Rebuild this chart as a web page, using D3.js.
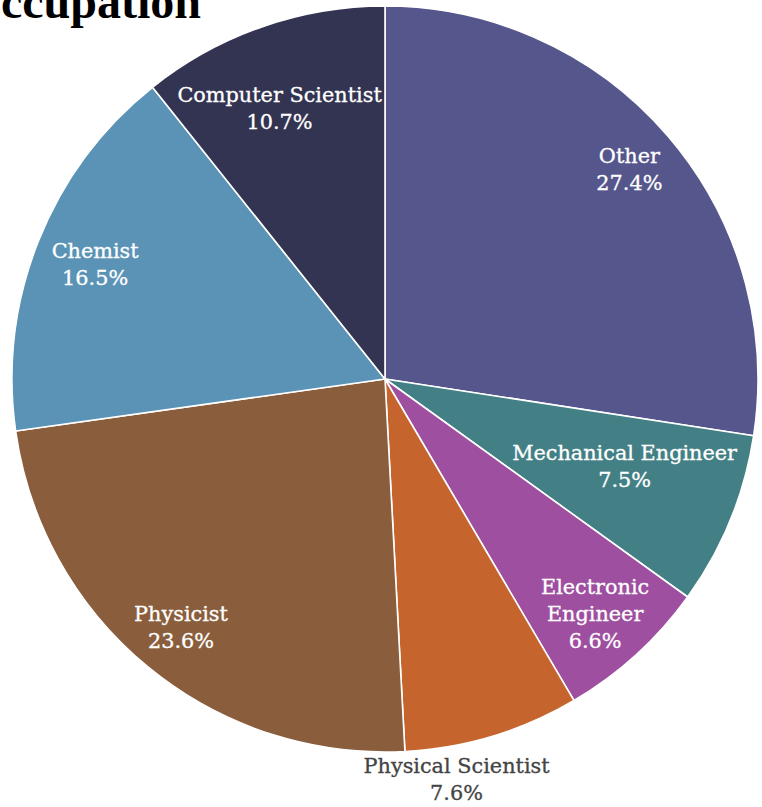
<!DOCTYPE html>
<html>
<head>
<meta charset="utf-8">
<script src="https://cdn.jsdelivr.net/npm/d3@7"></script>
<style>
  body { margin: 0; background: #fff; }
  svg { display: block; }
</style>
</head>
<body>
<svg id="chart" width="762" height="807"></svg>
<script>
// Share of laureates by occupation (percent)
const occupations = ["Other", "Mechanical Engineer", "Electronic Engineer", "Physical Scientist", "Physicist", "Chemist", "Computer Scientist"];
const shares = [27.4, 7.5, 6.6, 7.6, 23.6, 16.5, 10.7];
const labelLines = [["Other"], ["Mechanical Engineer"], ["Electronic", "Engineer"], ["Physical Scientist"], ["Physicist"], ["Chemist"], ["Computer Scientist"]];
const sliceColors = ["#55568c", "#438085", "#9e4fa0", "#c5652d", "#8a5d3c", "#5b93b6", "#333352"];
const titleText = "Occupation";

const W = 762, H = 807;
const cx = 385, cy = 379, R = 373;
const fontSize = 20.8, lineH = 27;
const padR = 10, padW = 3;

const svg = d3.select("#chart");

// Title (runs off the left edge of the page)
svg.append("text")
  .attr("x", 201).attr("y", 18)
  .attr("text-anchor", "end")
  .attr("font-family", "'Liberation Serif', serif")
  .attr("font-weight", "bold")
  .attr("font-size", 48)
  .attr("fill", "#000")
  .text(titleText);

const pie = d3.pie().sort(null).value(d => d.value).startAngle(0).endAngle(2 * Math.PI);
const data = occupations.map((name, i) => ({ name, value: shares[i], lines: labelLines[i], color: sliceColors[i] }));
const arcs = pie(data);
const arc = d3.arc().innerRadius(0).outerRadius(R);

const g = svg.append("g").attr("transform", `translate(${cx},${cy})`);

g.selectAll("path.slice")
  .data(arcs)
  .join("path")
  .attr("class", "slice")
  .attr("d", arc)
  .attr("fill", d => d.data.color)
  .attr("stroke", "#fff")
  .attr("stroke-width", 1.6)
  .attr("stroke-linejoin", "round");

// Measure label line widths with a hidden text node
const probe = svg.append("text")
  .attr("font-family", "'DejaVu Serif', serif")
  .attr("font-size", fontSize)
  .attr("visibility", "hidden");
function textWidth(s) { probe.text(s); return probe.node().getComputedTextLength(); }

const unit = a => [Math.sin(a), -Math.cos(a)];

// Does a stack of text lines centred at (x, y) fit inside the wedge?
function fits(x, y, widths, a0, a1) {
  const n = widths.length;
  const u0 = unit(a0), u1 = unit(a1);
  for (let i = 0; i < n; i++) {
    const mid = y + (i - (n - 1) / 2) * lineH;
    const top = mid - lineH / 2, bot = mid + lineH / 2;
    const hw = widths[i] / 2;
    for (const px of [x - hw, x + hw]) {
      for (const py of [top, bot]) {
        if (Math.hypot(px, py) > R - padR) return false;
        const s0 = u0[0] * py - u0[1] * px;
        const s1 = px * u1[1] - py * u1[0];
        if (s0 < padW || s1 < padW) return false;
      }
    }
  }
  return true;
}

// Push each label as far outward as it will go, staying as close as possible to the slice's mid-angle
function placeInside(d, widths) {
  const midA = (d.startAngle + d.endAngle) / 2;
  const step = Math.PI / 720;
  for (let k = 0; k <= 40; k++) {
    for (const sgn of (k === 0 ? [1] : [1, -1])) {
      const a = midA + sgn * k * step;
      const [ux, uy] = unit(a);
      for (let r = R; r >= 0; r -= 0.5) {
        if (fits(r * ux, r * uy, widths, d.startAngle, d.endAngle)) return [r * ux, r * uy];
      }
    }
  }
  return null;
}

arcs.forEach(d => {
  const lines = d.data.lines.concat([d.data.value.toFixed(1) + "%"]);
  const n = lines.length;
  const widths = lines.map(textWidth);
  let pos = placeInside(d, widths);
  let fill = "#fff";
  if (!pos) {
    // Outside label, hung just below the rim of the slice
    const midA = (d.startAngle + d.endAngle) / 2;
    const [ux, uy] = unit(midA);
    pos = [R * ux - 36, R * uy + 20 + (n * lineH) / 2 - 4];
    fill = "#444";
  }
  const t = g.append("text")
    .attr("text-anchor", "middle")
    .attr("font-family", "'DejaVu Serif', serif")
    .attr("font-size", fontSize)
    .attr("fill", fill)
    .attr("stroke", fill)
    .attr("stroke-width", 0.3);
  lines.forEach((s, i) => {
    t.append("tspan")
      .attr("x", pos[0])
      .attr("y", pos[1] + (i - (n - 1) / 2) * lineH + 0.36 * fontSize)
      .text(s);
  });
});

probe.remove();
</script>
</body>
</html>
